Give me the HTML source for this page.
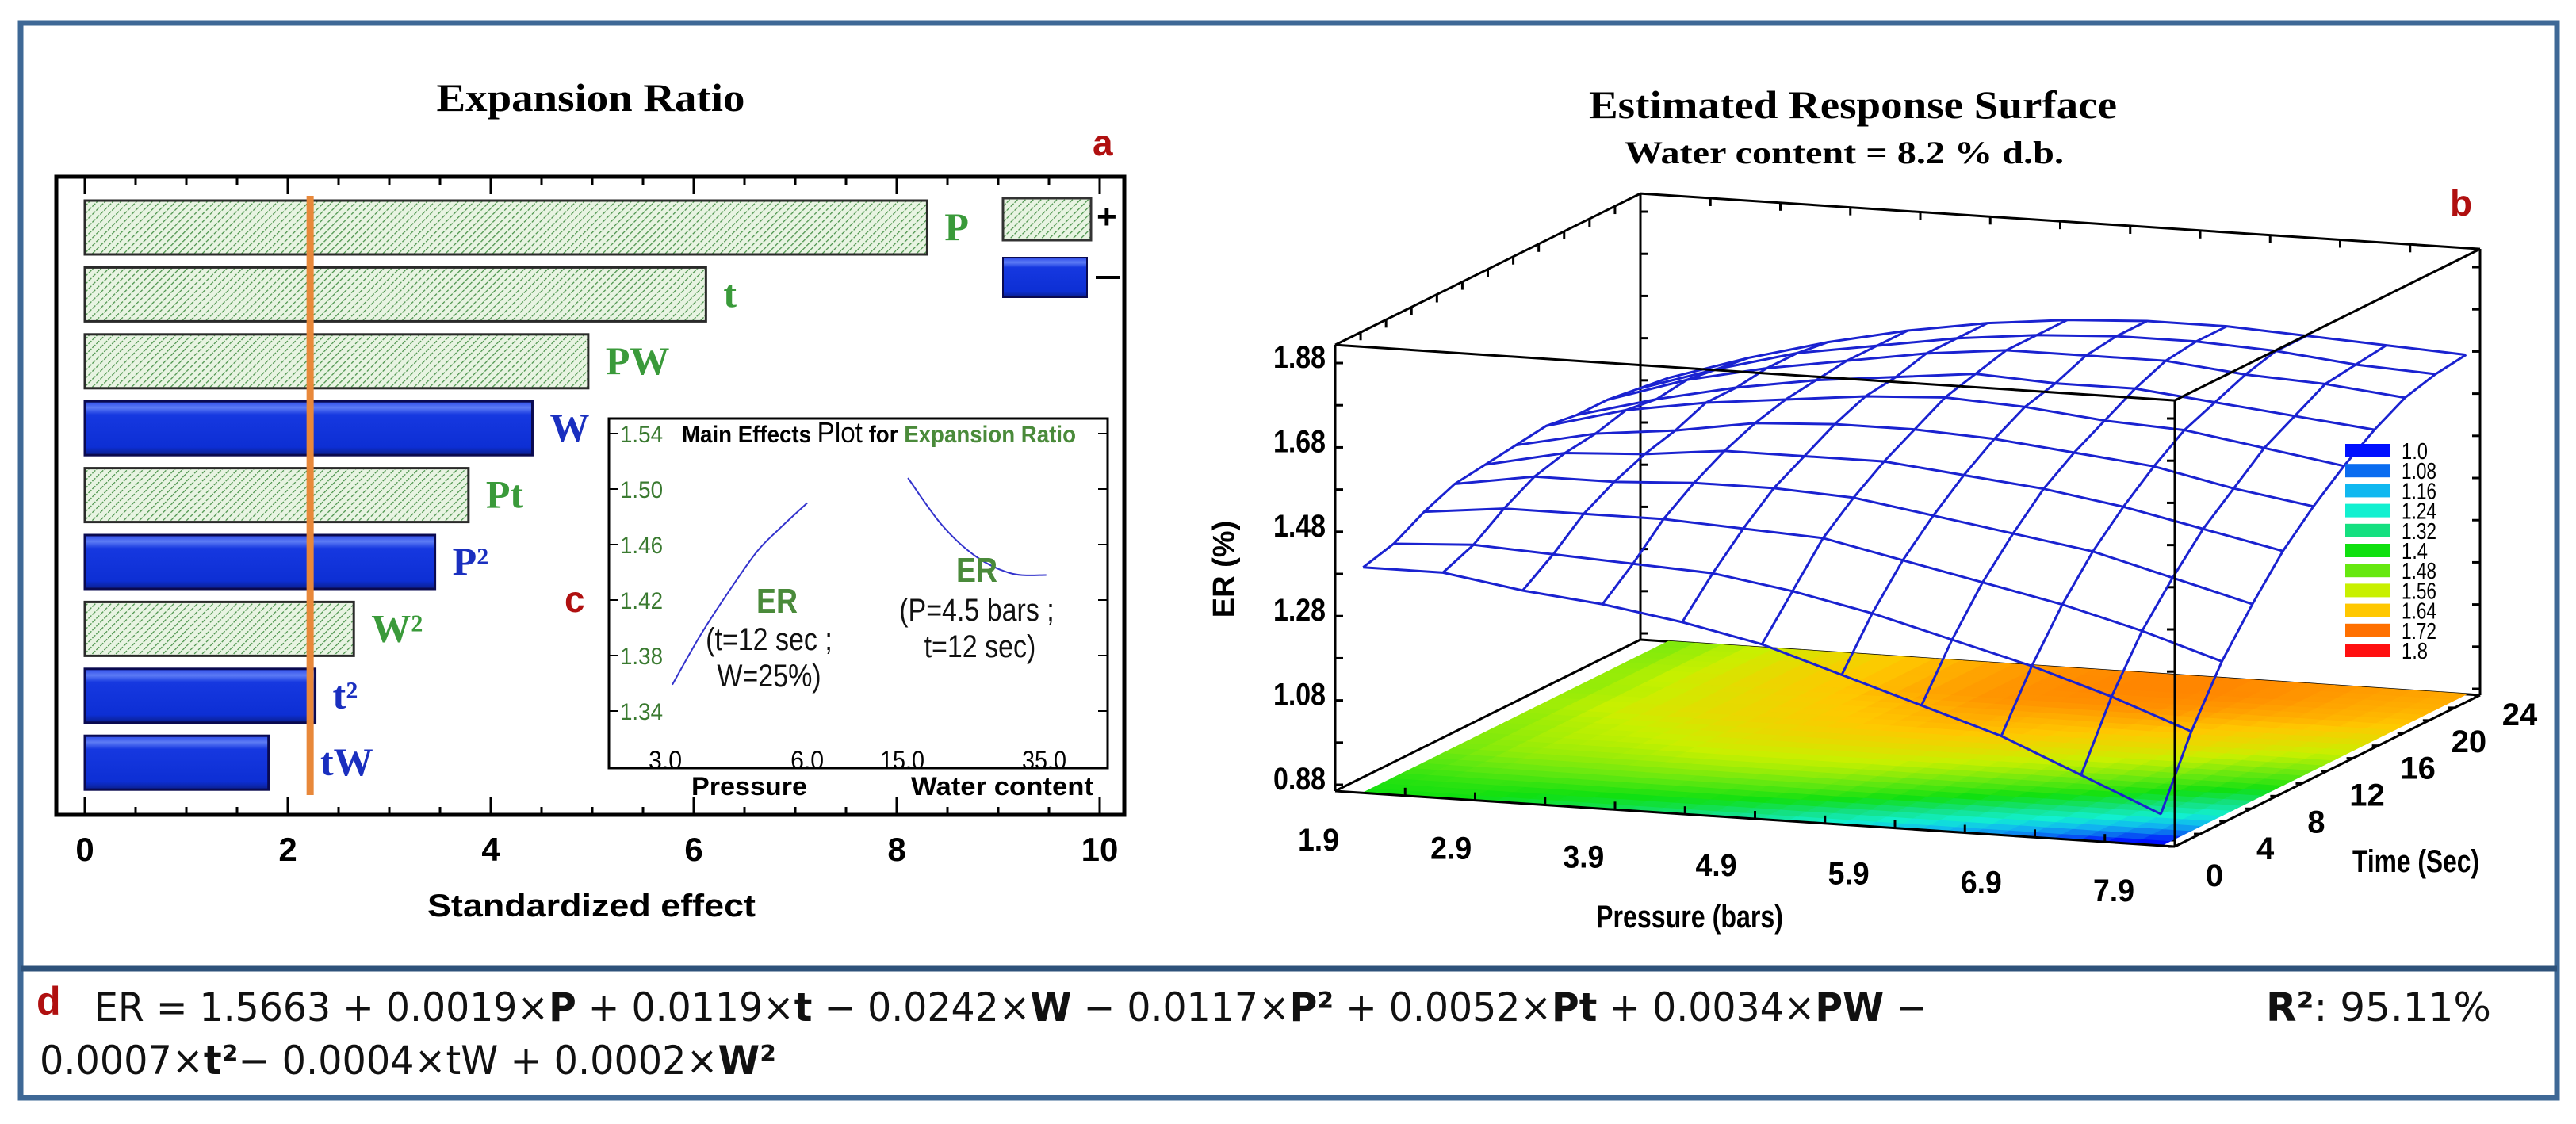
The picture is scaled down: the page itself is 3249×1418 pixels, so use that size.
<!DOCTYPE html>
<html><head><meta charset="utf-8"><style>
html,body{margin:0;padding:0;background:#fff;}
svg{display:block;}
</style></head><body>
<svg id="fig" xmlns="http://www.w3.org/2000/svg" width="3249" height="1418" viewBox="0 0 3249 1418">
<defs>
<pattern id="hatch" patternUnits="userSpaceOnUse" width="7" height="7" patternTransform="rotate(45)">
<rect width="7" height="7" fill="#e8f4e2"/><line x1="0" y1="0" x2="0" y2="7" stroke="#4a924a" stroke-width="2.5" stroke-dasharray="4 1.5"/>
</pattern>
<linearGradient id="blueg" x1="0" y1="0" x2="0" y2="1">
<stop offset="0" stop-color="#2a48e8"/><stop offset="0.12" stop-color="#5d7cf5"/><stop offset="0.25" stop-color="#1638e0"/><stop offset="0.85" stop-color="#0d2fd4"/><stop offset="1" stop-color="#0a1f8c"/>
</linearGradient>
</defs>
<rect x="26" y="29" width="3199" height="1356" fill="none" stroke="#3e6896" stroke-width="7"/>
<line x1="26" y1="1222" x2="3225" y2="1222" stroke="#2e527a" stroke-width="7"/>
<g id="left"></g>
<g id="right"></g>
<g id="eq" font-family="'DejaVu Sans Condensed','Liberation Sans',sans-serif" font-size="50" fill="#111">
<text x="46" y="1280" fill="#b01010" font-weight="bold" font-size="50" font-family="'Liberation Sans',sans-serif">d</text>
<text x="119" y="1288" textLength="2312" lengthAdjust="spacingAndGlyphs">ER = 1.5663 + 0.0019×<tspan font-weight="bold">P</tspan> + 0.0119×<tspan font-weight="bold">t</tspan> − 0.0242×<tspan font-weight="bold">W</tspan> − 0.0117×<tspan font-weight="bold">P²</tspan> + 0.0052×<tspan font-weight="bold">Pt</tspan> + 0.0034×<tspan font-weight="bold">PW</tspan> −</text>
<text x="50" y="1355" textLength="929" lengthAdjust="spacingAndGlyphs">0.0007×<tspan font-weight="bold">t²</tspan>− 0.0004×tW + 0.0002×<tspan font-weight="bold">W²</tspan></text>
<text x="2858" y="1288" textLength="284" lengthAdjust="spacingAndGlyphs"><tspan font-weight="bold">R²</tspan>: 95.11%</text>
</g>
</svg>
<script>
// ---------- Pareto chart data ----------
const effectLabels = ['P','t','PW','W','Pt','P²','W²','t²','tW'];
const effectValues = [8.30, 6.12, 4.96, 4.41, 3.78, 3.45, 2.65, 2.27, 1.81];
const effectSigns = ['+','+','+','-','+','-','+','-','-'];
const xTicks = [0,2,4,6,8,10];
const refLine = 2.22;
// ---------- inset main effects data ----------
const pressVals = [3.15, 3.75, 4.36, 4.94, 5.40, 6.0];
const pressER = [1.359, 1.395, 1.427, 1.455, 1.471, 1.490];
const waterVals = [15.8, 20.6, 25.5, 30.5, 35.3];
const waterER = [1.508, 1.474, 1.451, 1.439, 1.438];
const insetYTicks = [1.34, 1.38, 1.42, 1.46, 1.50, 1.54];
const pressTicks = [3.0, 6.0];
const waterTicks = [15.0, 35.0];
// ---------- response surface data ----------
const gridP = [2.1, 2.67, 3.24, 3.81, 4.38, 4.95, 5.52, 6.09, 6.66, 7.23, 7.8];
const gridT = [0, 2.4, 4.8, 7.2, 9.6, 12, 14.4, 16.8, 19.2, 21.6, 24];
const surfER = [
[1.40,1.40,1.37,1.35,1.32,1.28,1.22,1.16,1.10,1.02,0.94],
[1.42,1.43,1.42,1.41,1.40,1.37,1.33,1.28,1.23,1.17,1.10],
[1.46,1.48,1.48,1.48,1.47,1.46,1.42,1.38,1.34,1.29,1.23],
[1.49,1.52,1.52,1.53,1.53,1.52,1.49,1.46,1.43,1.38,1.33],
[1.50,1.54,1.55,1.57,1.57,1.57,1.55,1.53,1.50,1.46,1.42],
[1.51,1.55,1.57,1.60,1.61,1.61,1.60,1.58,1.56,1.52,1.49],
[1.52,1.57,1.60,1.62,1.64,1.65,1.64,1.62,1.61,1.58,1.55],
[1.51,1.56,1.60,1.63,1.65,1.67,1.66,1.66,1.64,1.62,1.60],
[1.51,1.57,1.61,1.64,1.67,1.69,1.69,1.69,1.67,1.66,1.64],
[1.50,1.56,1.61,1.64,1.67,1.69,1.70,1.70,1.69,1.67,1.66],
[1.49,1.55,1.60,1.64,1.67,1.69,1.70,1.70,1.69,1.68,1.67]];
const zTicks = [0.88, 1.08, 1.28, 1.48, 1.68, 1.88];
const pTicks = [1.9, 2.9, 3.9, 4.9, 5.9, 6.9, 7.9];
const tTicks = [0, 4, 8, 12, 16, 20, 24];
const legendLevels = ['1.0','1.08','1.16','1.24','1.32','1.4','1.48','1.56','1.64','1.72','1.8'];
const legendColors = ['#0010ff','#0a6cf0','#10b8f0','#12f0d0','#14e080','#10e010','#66e810','#c8f000','#ffc800','#ff7000','#ff1010'];

const NS='http://www.w3.org/2000/svg';
function mk(parent, tag, attrs, text){
  const e=document.createElementNS(NS,tag);
  for(const k in attrs) e.setAttribute(k,attrs[k]);
  if(text!==undefined) e.textContent=text;
  parent.appendChild(e); return e;
}
function smooth(pts){
  let d='M'+pts[0][0]+','+pts[0][1];
  for(let i=0;i<pts.length-1;i++){
    const p0=pts[Math.max(i-1,0)],p1=pts[i],p2=pts[i+1],p3=pts[Math.min(i+2,pts.length-1)];
    const c1=[p1[0]+(p2[0]-p0[0])/6,p1[1]+(p2[1]-p0[1])/6];
    const c2=[p2[0]-(p3[0]-p1[0])/6,p2[1]-(p3[1]-p1[1])/6];
    d+=' C'+c1.join(',')+' '+c2.join(',')+' '+p2.join(',');
  }
  return d;
}
const L=document.getElementById('left');
const R=document.getElementById('right');

// ======== LEFT PARETO ========
const x0=107, xUnit=128;
function xs(v){return x0+v*xUnit;}
function barTop(k){return 253+k*84.4;}
let t;
t=mk(L,'text',{x:745,y:140,'text-anchor':'middle','font-family':"'Liberation Serif',serif",'font-weight':'bold','font-size':50,textLength:389,lengthAdjust:'spacingAndGlyphs'},'Expansion Ratio');


t=mk(L,'text',{x:1378,y:196,'font-family':"'Liberation Sans',sans-serif",'font-weight':'bold','font-size':46,fill:'#b01010'},'a');


const frame=mk(L,'rect',{x:71,y:223,width:1347,height:805,fill:'#fff',stroke:'#000','stroke-width':5});


for(let v=0; v<=10.01; v+=0.5){
  const major = Math.abs(v/2-Math.round(v/2))<1e-6;
  const len = major?22:10;
  const l1=mk(L,'line',{x1:xs(v),y1:223,x2:xs(v),y2:223+len,stroke:'#000','stroke-width':3});
  
  
  const l2=mk(L,'line',{x1:xs(v),y1:1028,x2:xs(v),y2:1028-len,stroke:'#000','stroke-width':3});
  
  
}
xTicks.forEach(v=>{
  const tl=mk(L,'text',{x:xs(v),y:1086,'text-anchor':'middle','font-family':"'Liberation Sans',sans-serif",'font-weight':'bold','font-size':42},String(v));
  
  
});
t=mk(L,'text',{x:746,y:1156,'text-anchor':'middle','font-family':"'Liberation Sans',sans-serif",'font-weight':'bold','font-size':40,textLength:414,lengthAdjust:'spacingAndGlyphs'},'Standardized effect');



effectValues.forEach((v,k)=>{
  const pos = effectSigns[k]==='+';
  const b=mk(L,'rect',{x:xs(0),y:barTop(k),width:xs(v)-xs(0),height:68,fill:pos?'url(#hatch)':'url(#blueg)',stroke:pos?'#2a2a2a':'#0a0a50','stroke-width':3});
  
  
  const lx=Math.max(xs(v)+22,404);
  const lb=mk(L,'text',{x:lx,y:barTop(k)+50,'font-family':"'Liberation Serif',serif",'font-weight':'bold','font-size':50,fill:pos?'#3a9a3a':'#1a2fbf'},effectLabels[k]);
  
  
});
const rl=mk(L,'line',{x1:xs(refLine),y1:247,x2:xs(refLine),y2:1003,stroke:'#e8883a','stroke-width':9});


// legend
let lg=mk(L,'rect',{x:1265,y:250,width:111,height:53,fill:'url(#hatch)',stroke:'#333','stroke-width':3});


lg=mk(L,'rect',{x:1265,y:325,width:106,height:50,fill:'url(#blueg)',stroke:'#0a0a50','stroke-width':2});


lg=mk(L,'text',{x:1383,y:288,'font-family':"'Liberation Sans',sans-serif",'font-weight':'bold','font-size':44},'+');


lg=mk(L,'line',{x1:1382,y1:350,x2:1412,y2:350,stroke:'#000','stroke-width':4});



// ======== INSET ========
const iy=v=>547+(1.54-v)/0.04*70;
const px=v=>839+(v-3)*59.7;
const wx=v=>1138+(v-15)*8.95;
const inset=mk(L,'rect',{x:768,y:528,width:629,height:441,fill:'#fff',stroke:'#000','stroke-width':3});


insetYTicks.forEach(v=>{
  const a=mk(L,'line',{x1:768,y1:iy(v),x2:780,y2:iy(v),stroke:'#000','stroke-width':2});
  
  
  const b=mk(L,'line',{x1:1397,y1:iy(v),x2:1385,y2:iy(v),stroke:'#000','stroke-width':2});
  
  
  const c=mk(L,'text',{x:782,y:iy(v)+11,'font-family':"'Liberation Sans',sans-serif",'font-size':30,fill:'#3a7a30',textLength:54,lengthAdjust:'spacingAndGlyphs'},v.toFixed(2));
  
  
});
t=mk(L,'text',{x:860,y:558,'font-family':"'Liberation Sans',sans-serif",'font-size':30,'font-weight':'bold',textLength:497,lengthAdjust:'spacingAndGlyphs'});
t.innerHTML='Main Effects <tspan font-size="36" font-weight="normal">Plot</tspan> for <tspan fill="#4a8a3a">Expansion Ratio</tspan>';


pressTicks.forEach(v=>{
  const a=mk(L,'text',{x:px(v),y:970,'text-anchor':'middle','font-family':"'Liberation Sans',sans-serif",'font-size':32,textLength:42,lengthAdjust:'spacingAndGlyphs'},v.toFixed(1));
  
  
});
waterTicks.forEach(v=>{
  const a=mk(L,'text',{x:wx(v),y:970,'text-anchor':'middle','font-family':"'Liberation Sans',sans-serif",'font-size':32,textLength:56,lengthAdjust:'spacingAndGlyphs'},v.toFixed(1));
  
  
});
t=mk(L,'text',{x:945,y:1003,'text-anchor':'middle','font-family':"'Liberation Sans',sans-serif",'font-weight':'bold','font-size':32,textLength:146,lengthAdjust:'spacingAndGlyphs'},'Pressure');


t=mk(L,'text',{x:1264,y:1003,'text-anchor':'middle','font-family':"'Liberation Sans',sans-serif",'font-weight':'bold','font-size':32,textLength:230,lengthAdjust:'spacingAndGlyphs'},'Water content');


const pc=mk(L,'path',{d:smooth(pressVals.map((v,k)=>[px(v),iy(pressER[k])])),fill:'none',stroke:'#3333cc','stroke-width':2});


const wc=mk(L,'path',{d:smooth(waterVals.map((v,k)=>[wx(v),iy(waterER[k])])),fill:'none',stroke:'#3333cc','stroke-width':2});


const annots=[
 ['ER',980,773,44,'#4a8a3a','bold','annot-er-pressure'],
 ['(t=12 sec ;',970,820,40,'#111','normal','annot-pressure-cond1'],
 ['W=25%)',970,866,40,'#111','normal','annot-pressure-cond2'],
 ['ER',1232,734,44,'#4a8a3a','bold','annot-er-water'],
 ['(P=4.5 bars ;',1232,783,40,'#111','normal','annot-water-cond1'],
 ['t=12 sec)',1236,829,40,'#111','normal','annot-water-cond2']];
annots.forEach(a=>{
  const e=mk(L,'text',{x:a[1],y:a[2],'text-anchor':'middle','font-family':"'Liberation Sans',sans-serif",'font-size':a[3],fill:a[4],'font-weight':a[5],transform:`translate(${a[1]},0) scale(0.85,1) translate(${-a[1]},0)`},a[0]);
  
  
});
t=mk(L,'text',{x:712,y:772,'font-family':"'Liberation Sans',sans-serif",'font-weight':'bold','font-size':46,fill:'#b01010'},'c');



// ======== RIGHT 3D SURFACE ========
const zBot=0.865, zPx=532, tMax=24;
function proj(P,tt,z){
  const u=(P-1.9)/6, v=tt/tMax;
  return [1684+u*1059+v*385, 998+u*70-v*191-(z-zBot)*zPx];
}
const zTop=1.923;
t=mk(R,'text',{x:2337,y:149,'text-anchor':'middle','font-family':"'Liberation Serif',serif",'font-weight':'bold','font-size':50,textLength:666,lengthAdjust:'spacingAndGlyphs'},'Estimated Response Surface');


t=mk(R,'text',{x:2326,y:206,'text-anchor':'middle','font-family':"'Liberation Serif',serif",'font-weight':'bold','font-size':40,textLength:554,lengthAdjust:'spacingAndGlyphs'},'Water content = 8.2 % d.b.');


t=mk(R,'text',{x:3090,y:272,'font-family':"'Liberation Sans',sans-serif",'font-weight':'bold','font-size':46,fill:'#b01010'},'b');



function edge(a,b,name){
  const l=mk(R,'line',{x1:a[0],y1:a[1],x2:b[0],y2:b[1],stroke:'#000','stroke-width':3});
  
  
}
const c000=proj(1.9,0,zBot), c100=proj(7.9,0,zBot), c110=proj(7.9,24,zBot), c010=proj(1.9,24,zBot);
const c001=proj(1.9,0,zTop), c101=proj(7.9,0,zTop), c111=proj(7.9,24,zTop), c011=proj(1.9,24,zTop);
edge(c010,c011,'box-edge-back-left');
edge(c011,c111,'box-edge-top-back');
edge(c001,c011,'box-edge-top-left');
edge(c111,c110,'box-edge-back-right');
edge(c010,c110,'box-edge-bottom-back');
edge(c000,c010,'box-edge-bottom-left');
function tickLine(p,dx,dy,name){
  const l=mk(R,'line',{x1:p[0],y1:p[1],x2:p[0]+dx,y2:p[1]+dy,stroke:'#000','stroke-width':3});
  
  
}
for(let z=0.88; z<=1.881; z+=0.1){
  tickLine(proj(1.9,0,z),10,0,'z-tick-front');
  tickLine(proj(1.9,24,z),10,0,'z-tick-back');
  tickLine(proj(7.9,0,z),-10,0,'z-tick-front-right');
  tickLine(proj(7.9,24,z),-10,0,'z-tick-back-right');
}
for(let p=1.9; p<=7.91; p+=0.5){
  tickLine(proj(p,24,zTop),0,10,'p-tick-top');
}
for(let tt=0; tt<=24; tt+=2){
  tickLine(proj(1.9,tt,zTop),0,10,'t-tick-top');
}
function colorFor(z){
  const lv=legendLevels.map(Number);
  if(z<=lv[0]) return legendColors[0];
  if(z>=lv[lv.length-1]) return legendColors[lv.length-1];
  let k=0; while(z>lv[k+1]) k++;
  const f=(z-lv[k])/(lv[k+1]-lv[k]);
  const a=hex(legendColors[k]), b=hex(legendColors[k+1]);
  return 'rgb('+a.map((c,i)=>Math.round(c+(b[i]-c)*f)).join(',')+')';
}
function hex(h){return [1,3,5].map(i=>parseInt(h.substr(i,2),16));}
const floorG=mk(R,'g',{});


const S=3;
for(let j=0;j<gridT.length-1;j++){
  for(let i=0;i<gridP.length-1;i++){
    for(let sj=0;sj<S;sj++){
      for(let si=0;si<S;si++){
        const u0=si/S,u1=(si+1)/S,v0=sj/S,v1=(sj+1)/S;
        const P0=gridP[i]+(gridP[i+1]-gridP[i])*u0, P1=gridP[i]+(gridP[i+1]-gridP[i])*u1;
        const T0=gridT[j]+(gridT[j+1]-gridT[j])*v0, T1=gridT[j]+(gridT[j+1]-gridT[j])*v1;
        const um=(u0+u1)/2, vm=(v0+v1)/2;
        const z=(1-um)*(1-vm)*surfER[j][i]+um*(1-vm)*surfER[j][i+1]+(1-um)*vm*surfER[j+1][i]+um*vm*surfER[j+1][i+1];
        const pts=[proj(P0,T0,zBot),proj(P1,T0,zBot),proj(P1,T1,zBot),proj(P0,T1,zBot)];
        const col=colorFor(z);
        const q=mk(floorG,'polygon',{points:pts.map(p=>p.join(',')).join(' '),fill:col,stroke:col,'stroke-width':1.5});
        
        
      }
    }
  }
}
const meshG=mk(R,'g',{fill:'none',stroke:'#1a22d0','stroke-width':3});


for(let j=0;j<gridT.length;j++){
  const d='M'+gridP.map((p,i)=>proj(p,gridT[j],surfER[j][i]).join(',')).join(' L');
  const m=mk(meshG,'path',{d:d});
  
  
}
for(let i=0;i<gridP.length;i++){
  const d='M'+gridT.map((tt,j)=>proj(gridP[i],tt,surfER[j][i]).join(',')).join(' L');
  const m=mk(meshG,'path',{d:d});
  
  
}
edge(c000,c001,'box-edge-front-left');
edge(c001,c101,'box-edge-top-front');
edge(c101,c111,'box-edge-top-right');
edge(c100,c101,'box-edge-front-right');
edge(c000,c100,'box-edge-bottom-front');
edge(c100,c110,'box-edge-bottom-right');
for(let p=1.9; p<=7.91; p+=0.5){ tickLine(proj(p,0,zBot),0,-10,'p-tick-bottom'); }
for(let tt=0; tt<=24; tt+=2){ tickLine(proj(7.9,tt,zBot),-8,0,'t-tick-bottom'); }
zTicks.forEach(z=>{
  const p=proj(1.9,0,z);
  const e=mk(R,'text',{x:1672,y:p[1]+6,'text-anchor':'end','font-family':"'Liberation Sans',sans-serif",'font-weight':'bold','font-size':40,textLength:66,lengthAdjust:'spacingAndGlyphs'},z.toFixed(2));
  
  
});
t=mk(R,'text',{x:0,y:0,'text-anchor':'middle','font-family':"'Liberation Sans',sans-serif",'font-weight':'bold','font-size':38,transform:'translate(1556,718) rotate(-90)'},'ER (%)');


pTicks.forEach(v=>{
  const p=proj(v,0,zBot), u=(v-1.9)/6;
  const e=mk(R,'text',{x:p[0]-21-56*u,y:p[1]+75-6*u,'text-anchor':'middle','font-family':"'Liberation Sans',sans-serif",'font-weight':'bold','font-size':40,textLength:52,lengthAdjust:'spacingAndGlyphs'},v.toFixed(1));
  
  
});
t=mk(R,'text',{x:2131,y:1170,'text-anchor':'middle','font-family':"'Liberation Sans',sans-serif",'font-weight':'bold','font-size':40,textLength:236,lengthAdjust:'spacingAndGlyphs'},'Pressure (bars)');


tTicks.forEach(v=>{
  const p=proj(7.9,v,zBot);
  const e=mk(R,'text',{x:p[0]+50,y:p[1]+50-12*v/24,'text-anchor':'middle','font-family':"'Liberation Sans',sans-serif",'font-weight':'bold','font-size':40},String(v));
  
  
});
t=mk(R,'text',{x:3047,y:1100,'text-anchor':'middle','font-family':"'Liberation Sans',sans-serif",'font-weight':'bold','font-size':40,textLength:160,lengthAdjust:'spacingAndGlyphs'},'Time (Sec)');


legendLevels.forEach((lvl,k)=>{
  const y=560+k*25.2;
  const r=mk(R,'rect',{x:2958,y:y,width:56,height:17,fill:legendColors[k]});
  
  
  const e=mk(R,'text',{x:3029,y:y+19,'font-family':"'Liberation Sans',sans-serif",'font-size':29,textLength:lvl.length*11,lengthAdjust:'spacingAndGlyphs'},lvl);
  
  
});
</script>
</body></html>
